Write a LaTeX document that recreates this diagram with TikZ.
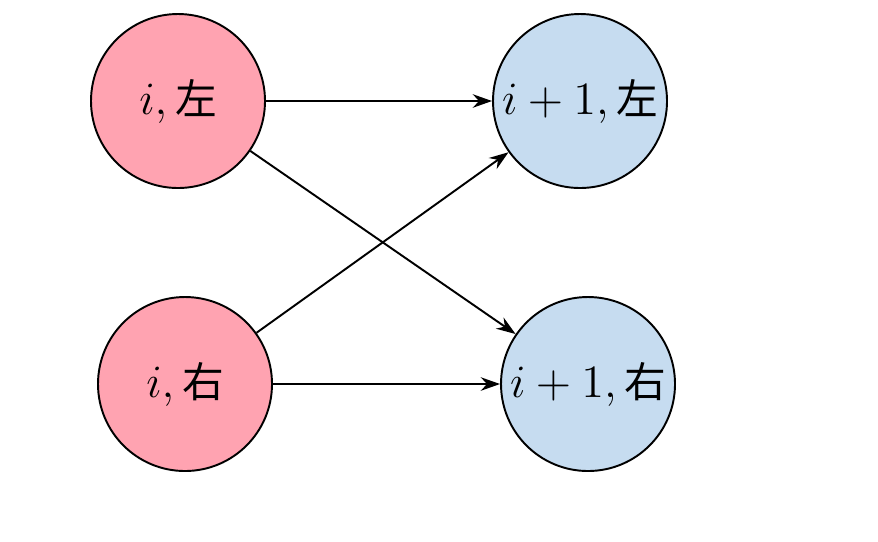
\documentclass[tikz,border=0pt]{standalone}
\usepackage{amsmath}
\usepackage{fontspec}
\newfontfamily\cjk[Scale=0.9]{Noto Sans CJK SC}
\usetikzlibrary{arrows.meta, positioning}
\definecolor{statepink}{HTML}{FFA3B1}
\definecolor{stateblue}{HTML}{C6DCF0}

\begin{document}
\begin{tikzpicture}[x=0.00911cm, y=0.00911cm,
    state/.style={circle, draw=black, line width=0.5pt, minimum size=1.585cm, inner sep=0pt, font=\large},
    cur/.style={state, fill=statepink},
    nxt/.style={state, fill=stateblue},
    trans/.style={-{Stealth[length=5pt, width=3.5pt]}, line width=0.5pt}]
    \useasboundingbox (0,0) rectangle (878,541);
    % layer i and layer i+1
    \node[cur] (il) at (178,440) {$i,\text{\cjk 左}$};
    \node[cur] (ir) at (185,157) {$i,\text{\cjk 右}$};
    \node[nxt] (nl) at (580,440) {$i+1,\text{\cjk 左}$};
    \node[nxt] (nr) at (588,157) {$i+1,\text{\cjk 右}$};
    % transitions
    \draw[trans] (il) -- (nl);
    \draw[trans] (il) -- (nr);
    \draw[trans] (ir) -- (nl);
    \draw[trans] (ir) -- (nr);
\end{tikzpicture}
\end{document}
